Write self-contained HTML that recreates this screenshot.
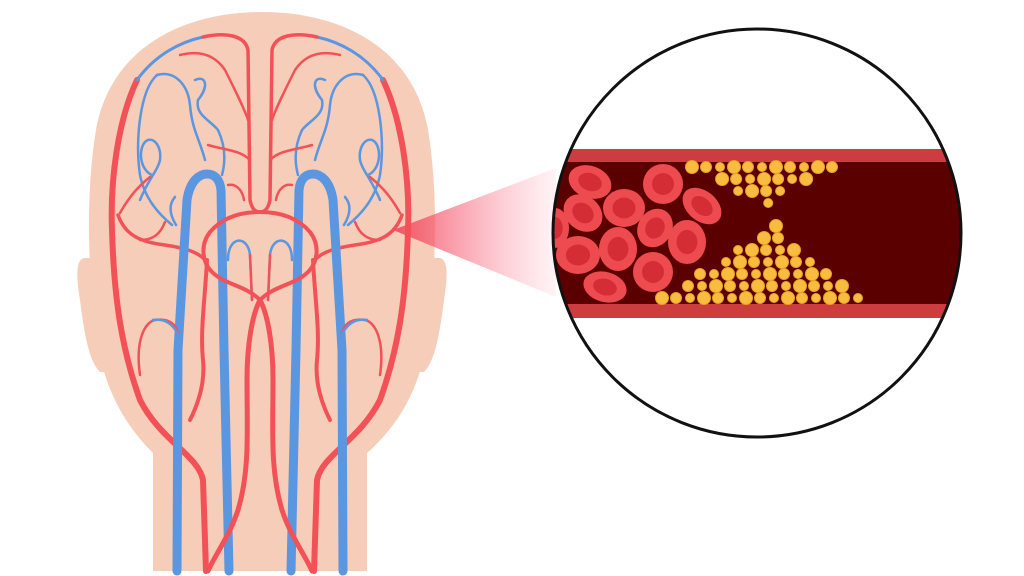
<!DOCTYPE html>
<html><head><meta charset="utf-8"><style>html,body{margin:0;padding:0;background:#fff;width:1024px;height:576px;overflow:hidden}</style></head>
<body>
<svg id="s" width="1024" height="576" viewBox="0 0 1024 576" xmlns="http://www.w3.org/2000/svg">
<defs>
<linearGradient id="cone" x1="0" x2="1" y1="0" y2="0">
<stop offset="0" stop-color="#f2445a" stop-opacity="0.9"/>
<stop offset="1" stop-color="#ff8fa3" stop-opacity="0.1"/>
</linearGradient>
<clipPath id="cc"><circle cx="757" cy="233" r="204"/></clipPath>
</defs>
<g fill="#f5cdb9">
<path d="M84,258 C76,260 76,275 80,300 C84,330 88,360 100,372 L110,372 L110,258 Z"/>
<path d="M440,258 C448,260 448,275 444,300 C440,330 436,360 424,372 L414,372 L414,258 Z"/>
<path d="M153,571 L153,453 C120,420 100,380 94,320 C88,260 86,190 96,130 C110,50 180,12 262,12 C344,12 414,50 428,130 C438,190 436,260 430,320 C424,380 404,420 367,453 L367,571 Z"/>
</g>
<path d="M393,230 L556,168 L556,297 Z" fill="url(#cone)"/>
<g id="half" fill="none" stroke-linecap="round" stroke-linejoin="round">
<path d="M137,80 C118,120 110,180 112,230 C114,300 122,350 140,400 C160,440 198,455 203,480 L206,571" stroke="#f25257" stroke-width="6"/>
<path d="M137,80 C155,55 180,42 203,37" stroke="#5b96e0" stroke-width="3"/>
<path d="M203,37 C225,32 245,35 248,50 L250,200 C252,210 256,212 260,212" stroke="#f25257" stroke-width="3.5"/>
<path d="M157,75 C140,90 135,140 140,175 C145,200 160,215 172,225" stroke="#5b96e0" stroke-width="2.5"/>
<path d="M157,75 C175,70 188,85 190,105 C192,130 200,140 205,160" stroke="#5b96e0" stroke-width="2.5"/>
<path d="M180,55 C200,50 215,55 225,70 C235,90 245,110 248,120" stroke="#f25257" stroke-width="2.5"/>
<path d="M195,80 C205,75 210,85 198,100 C195,115 210,120 218,130 C225,145 226,160 222,175" stroke="#5b96e0" stroke-width="2.5"/>
<path d="M208,145 C225,150 240,150 250,160" stroke="#f25257" stroke-width="2.5"/>
<path d="M152,175 C140,170 138,150 145,142 C152,135 162,145 160,160 C158,170 148,180 140,200" stroke="#5b96e0" stroke-width="2.5"/>
<path d="M120,213 C130,195 140,185 150,177" stroke="#f25257" stroke-width="2.5"/>
<path d="M118,215 C125,235 140,242 165,245 C185,248 198,252 205,260" stroke="#f25257" stroke-width="3.5"/>
<path d="M165,222 C160,235 152,240 140,240" stroke="#f25257" stroke-width="2.5"/>
<path d="M175,197 C168,205 170,215 176,225" stroke="#5b96e0" stroke-width="2.5"/>
<path d="M177,571 L178,350 L187,200 C190,180 200,174 207,174 C215,174 220,180 221,190 L224,350 L229,571" stroke="#5b96e0" stroke-width="9"/>
<path d="M260,212 C240,212 222,218 210,232 C200,245 202,262 212,272 C225,285 245,285 260,300" stroke="#f25257" stroke-width="4"/>
<path d="M228,185 C238,183 243,193 244,200" stroke="#f25257" stroke-width="2.5"/>
<path d="M228,260 C228,235 248,235 250,255 L252,300" stroke="#5b96e0" stroke-width="2.5"/>
<path d="M250,255 L252,300" stroke="#f25257" stroke-width="2.5"/>
<path d="M207,260 C205,300 200,330 203,360 C205,380 200,400 190,420" stroke="#f25257" stroke-width="4"/>
<path d="M260,300 C252,315 247,345 247,380 C247,430 250,470 238,510 C230,535 215,555 208,571" stroke="#f25257" stroke-width="5"/>
<path d="M140,375 C135,340 145,322 155,320 C170,318 177,325 178,335" stroke="#f25257" stroke-width="2.5"/>
<path d="M153,320 C165,318 174,325 178,335" stroke="#5b96e0" stroke-width="2.5"/>
</g>
<use href="#half" transform="translate(520,0) scale(-1,1)"/>
<circle cx="757" cy="233" r="204" fill="#fff"/>
<g clip-path="url(#cc)">
<rect x="540" y="149" width="440" height="169" fill="#cd3d40"/>
<rect x="540" y="162" width="440" height="142" fill="#5a0000"/>
<g id="cells"></g>
<g id="fat" fill="#f8bd3f" stroke="#e8a02a" stroke-width="1"></g>
</g>
<circle cx="757" cy="233" r="204" fill="none" stroke="#111" stroke-width="3"/>
</svg>
<script>
var ns="http://www.w3.org/2000/svg";
function el(p,t,a){var e=document.createElementNS(ns,t);for(var k in a)e.setAttribute(k,a[k]);p.appendChild(e);return e;}
var cells=[[590,182,22,16,20],[663,184,20,20,0],[624,208,21,19,0],[583,213,21,17,40],[702,206,22,15,40],[655,228,20,17,-60],[687,242,19,22,0],[618,249,19,22,0],[578,255,22,19,0],[653,272,20,20,0],[605,287,22,15,15],[555,228,14,20,0]];
var g=document.getElementById('cells');
cells.forEach(function(c){var gg=el(g,'g',{transform:'translate('+c[0]+','+c[1]+') rotate('+c[4]+')'});
el(gg,'ellipse',{rx:c[2],ry:c[3],fill:'#ee4b50'});el(gg,'ellipse',{rx:c[2]*0.55,ry:c[3]*0.55,fill:'#d42d35'});});
var f=document.getElementById('fat');
function tri(x0,x1,yb,ax,ay,dir){
 var i=0;
 for(var y=yb;dir*(ay-y)>=-2;y+=dir*12,i++){var t=(y-yb)/(ay-yb);var l=x0+(ax-x0)*t,r=x1+(ax-x1)*t;var off=(i%2)?7:0;
  for(var x=l+off;x<=r+1;x+=14){var rr=4.5+((Math.round(x)*7+y*3)%3);el(f,'circle',{cx:x.toFixed(1),cy:y,r:rr});}}
}
tri(692,835,167,765,205,1);
tri(662,865,298,776,226,-1);
</script>
</body></html>
